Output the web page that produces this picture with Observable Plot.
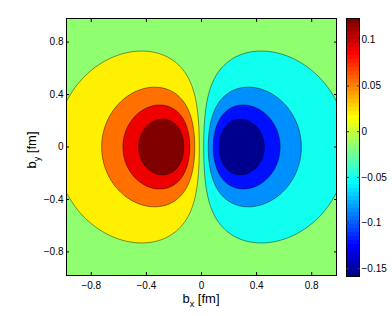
<!DOCTYPE html>
<html>
<head>
<meta charset="utf-8">
<script src="https://cdn.jsdelivr.net/npm/d3@7"></script>
<script src="https://cdn.jsdelivr.net/npm/@observablehq/plot@0.6"></script>
<style>
  body { margin: 0; background: #fff; }
  #chart { position: relative; width: 392px; height: 316px; font-family: "Liberation Sans", Arial, sans-serif; }
  #chart svg { position: absolute; top: 0; overflow: visible; }
</style>
</head>
<body>
<div id="chart"></div>
<script>
// ---- values ----
const xTicks = [-0.8, -0.4, 0, 0.4, 0.8];
const yTicks = [-0.8, -0.4, 0, 0.4, 0.8];
const cbarTicks = [-0.15, -0.1, -0.05, 0, 0.05, 0.1];
const cbarRange = [-0.1584, 0.1238];
const axisExtent = [-0.98, 0.98];
// contour levels and the fill colour of each band (lowest band first)
const levels = [-0.1225, -0.0875, -0.0525, -0.0175, 0.0175, 0.0525, 0.0875, 0.1225];
const bandColors = ["#00008F", "#0010FF", "#008FFF", "#10FFEF", "#8FFF70", "#FFEF00", "#FF7000", "#EF0000", "#800000"];
// jet colormap anchors (fraction of colorbar height) and colours
const jetStops = [0.0078, 0.1172, 0.3672, 0.6172, 0.8672, 0.9922];
const jetColors = ["#00008F", "#0000FF", "#00FFFF", "#FFFF00", "#FF0000", "#800000"];
// dipole field: strength (positive lobe at negative b_x), squared radius scale, fall-off power
const fieldAmp = -1.096, fieldR2 = 0.3116, fieldPower = 2.75;

const field = (x, y) => fieldAmp * x * Math.pow(1 + (x * x + y * y) / fieldR2, -fieldPower);

const fontFamily = "Liberation Sans, Arial, sans-serif";
const fmt = d3.format("");

const main = Plot.plot({
  width: 392, height: 316,
  marginLeft: 66, marginRight: 56, marginTop: 18, marginBottom: 41,
  style: {fontFamily, fontSize: "10px", color: "black", background: "transparent", overflow: "visible"},
  x: {domain: axisExtent},
  y: {domain: axisExtent},
  color: {type: "threshold", domain: levels, range: bandColors},
  marks: [
    Plot.frame({fill: bandColors[0], stroke: null}),
    Plot.contour({
      fill: field,
      x1: axisExtent[0], x2: axisExtent[1], y1: axisExtent[0], y2: axisExtent[1],
      thresholds: levels,
      pixelSize: 1,
      stroke: "#000", strokeWidth: 0.5, strokeOpacity: 0.85
    }),
    Plot.frame({stroke: "black", strokeWidth: 1}),
    Plot.axisX(xTicks, {anchor: "bottom", tickSize: -3, tickPadding: 9, tickFormat: fmt, label: null, stroke: "black"}),
    Plot.axisX(xTicks, {anchor: "top", tickSize: -3, tickFormat: () => "", label: null, stroke: "black"}),
    Plot.axisY(yTicks, {anchor: "left", tickSize: -3, tickPadding: 6, tickFormat: fmt, label: null, stroke: "black"}),
    Plot.axisY(yTicks, {anchor: "right", tickSize: -3, tickFormat: () => "", label: null, stroke: "black"})
  ]
});

// axis titles with subscripts
const msvg = d3.select(main);
const xl = msvg.append("text")
  .attr("x", 201).attr("y", 303)
  .attr("text-anchor", "middle").attr("font-size", 13).attr("fill", "black");
xl.append("tspan").text("b");
xl.append("tspan").attr("font-size", 9).attr("dy", 4).text("x");
xl.append("tspan").attr("dy", -4).text(" [fm]");

const yl = msvg.append("text")
  .attr("transform", "translate(36,150) rotate(-90)")
  .attr("text-anchor", "middle").attr("font-size", 13).attr("fill", "black");
yl.append("tspan").text("b");
yl.append("tspan").attr("font-size", 9).attr("dy", 4).text("y");
yl.append("tspan").attr("dy", -4).text(" [fm]");

const jetDomain = jetStops.map(t => cbarRange[0] + t * (cbarRange[1] - cbarRange[0]));

const cbar = Plot.plot({
  width: 46, height: 316,
  marginLeft: 0, marginRight: 33, marginTop: 18, marginBottom: 40,
  style: {fontFamily, fontSize: "10px", color: "black", background: "transparent", overflow: "visible"},
  x: {domain: [0, 1], axis: null},
  y: {domain: cbarRange},
  color: {type: "linear", domain: jetDomain, range: jetColors, interpolate: "rgb", clamp: true},
  marks: [
    Plot.raster({
      fill: (x, y) => y,
      x1: 0, x2: 1, y1: cbarRange[1], y2: cbarRange[0],
      width: 1, height: 64, imageRendering: "pixelated"
    }),
    Plot.frame({stroke: "black"}),
    Plot.axisY(cbarTicks, {anchor: "right", tickSize: -3, tickPadding: 5, tickFormat: fmt, label: null, stroke: "#333"}),
    Plot.axisY(cbarTicks, {anchor: "left", tickSize: -3, tickFormat: () => "", label: null, stroke: "#333"})
  ]
});
cbar.style.left = "346px";

const chart = document.getElementById("chart");
main.style.left = "0px";
chart.appendChild(main);
chart.appendChild(cbar);
</script>
</body>
</html>
